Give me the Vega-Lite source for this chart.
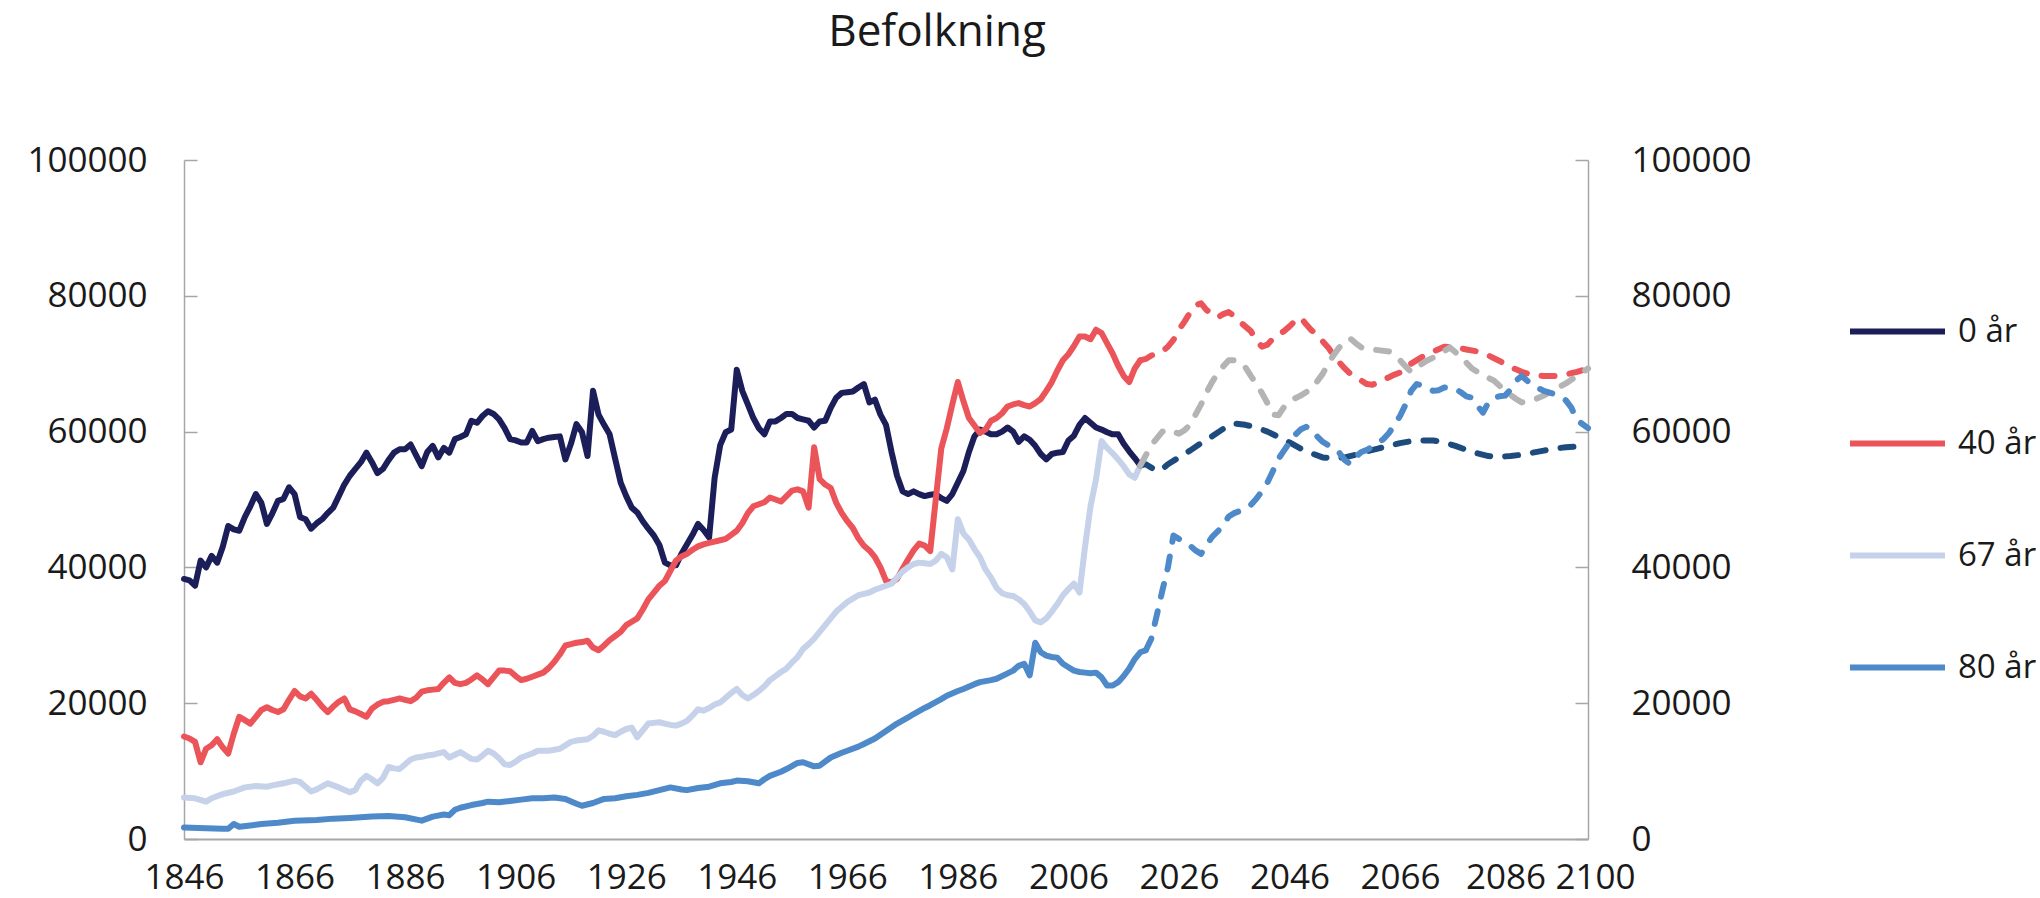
{
  "$schema": "https://vega.github.io/schema/vega-lite/v6.json",
  "width": 1404,
  "height": 679,
  "autosize": {"type": "none"},
  "padding": {"left": 184, "top": 160, "right": 452, "bottom": 59},
  "background": "white",
  "config": {"font": "Open Sans", "view": {"stroke": null}},
  "title": {"text": "Befolkning", "fontSize": 44, "fontWeight": "normal", "color": "#1a1a1a", "anchor": "middle", "frame": "group", "dx": 51, "offset": 53, "baseline": "alphabetic"},
  "datasets": {
    "hist": [
      {"serie":"0 år","year":1846,"value":38300},{"serie":"0 år","year":1847,"value":38100},{"serie":"0 år","year":1848,"value":37300},{"serie":"0 år","year":1849,"value":41000},{"serie":"0 år","year":1850,"value":40000},{"serie":"0 år","year":1851,"value":41700},{"serie":"0 år","year":1852,"value":40700},{"serie":"0 år","year":1853,"value":43000},{"serie":"0 år","year":1854,"value":46100},{"serie":"0 år","year":1855,"value":45600},{"serie":"0 år","year":1856,"value":45400},{"serie":"0 år","year":1857,"value":47400},{"serie":"0 år","year":1858,"value":49000},{"serie":"0 år","year":1859,"value":50800},{"serie":"0 år","year":1860,"value":49500},{"serie":"0 år","year":1861,"value":46400},{"serie":"0 år","year":1862,"value":48000},{"serie":"0 år","year":1863,"value":49800},{"serie":"0 år","year":1864,"value":50100},{"serie":"0 år","year":1865,"value":51800},{"serie":"0 år","year":1866,"value":50800},{"serie":"0 år","year":1867,"value":47400},{"serie":"0 år","year":1868,"value":47100},{"serie":"0 år","year":1869,"value":45700},{"serie":"0 år","year":1870,"value":46500},{"serie":"0 år","year":1871,"value":47100},{"serie":"0 år","year":1872,"value":48000},{"serie":"0 år","year":1873,"value":48800},{"serie":"0 år","year":1874,"value":50500},{"serie":"0 år","year":1875,"value":52200},{"serie":"0 år","year":1876,"value":53500},{"serie":"0 år","year":1877,"value":54500},{"serie":"0 år","year":1878,"value":55500},{"serie":"0 år","year":1879,"value":56900},{"serie":"0 år","year":1880,"value":55500},{"serie":"0 år","year":1881,"value":53900},{"serie":"0 år","year":1882,"value":54500},{"serie":"0 år","year":1883,"value":55800},{"serie":"0 år","year":1884,"value":56900},{"serie":"0 år","year":1885,"value":57400},{"serie":"0 år","year":1886,"value":57400},{"serie":"0 år","year":1887,"value":58100},{"serie":"0 år","year":1888,"value":56500},{"serie":"0 år","year":1889,"value":54900},{"serie":"0 år","year":1890,"value":57000},{"serie":"0 år","year":1891,"value":57900},{"serie":"0 år","year":1892,"value":56200},{"serie":"0 år","year":1893,"value":57600},{"serie":"0 år","year":1894,"value":56900},{"serie":"0 år","year":1895,"value":58900},{"serie":"0 år","year":1896,"value":59200},{"serie":"0 år","year":1897,"value":59600},{"serie":"0 år","year":1898,"value":61600},{"serie":"0 år","year":1899,"value":61300},{"serie":"0 år","year":1900,"value":62300},{"serie":"0 år","year":1901,"value":63000},{"serie":"0 år","year":1902,"value":62600},{"serie":"0 år","year":1903,"value":61800},{"serie":"0 år","year":1904,"value":60500},{"serie":"0 år","year":1905,"value":58900},{"serie":"0 år","year":1906,"value":58700},{"serie":"0 år","year":1907,"value":58400},{"serie":"0 år","year":1908,"value":58400},{"serie":"0 år","year":1909,"value":60100},{"serie":"0 år","year":1910,"value":58600},{"serie":"0 år","year":1911,"value":58900},{"serie":"0 år","year":1912,"value":59100},{"serie":"0 år","year":1913,"value":59200},{"serie":"0 år","year":1914,"value":59300},{"serie":"0 år","year":1915,"value":55900},{"serie":"0 år","year":1916,"value":58200},{"serie":"0 år","year":1917,"value":61100},{"serie":"0 år","year":1918,"value":59900},{"serie":"0 år","year":1919,"value":56400},{"serie":"0 år","year":1920,"value":66000},{"serie":"0 år","year":1921,"value":62500},{"serie":"0 år","year":1922,"value":61000},{"serie":"0 år","year":1923,"value":59600},{"serie":"0 år","year":1924,"value":56000},{"serie":"0 år","year":1925,"value":52500},{"serie":"0 år","year":1926,"value":50500},{"serie":"0 år","year":1927,"value":48800},{"serie":"0 år","year":1928,"value":48100},{"serie":"0 år","year":1929,"value":46800},{"serie":"0 år","year":1930,"value":45700},{"serie":"0 år","year":1931,"value":44700},{"serie":"0 år","year":1932,"value":43300},{"serie":"0 år","year":1933,"value":40700},{"serie":"0 år","year":1934,"value":40300},{"serie":"0 år","year":1935,"value":40300},{"serie":"0 år","year":1936,"value":42000},{"serie":"0 år","year":1937,"value":43400},{"serie":"0 år","year":1938,"value":44800},{"serie":"0 år","year":1939,"value":46400},{"serie":"0 år","year":1940,"value":45500},{"serie":"0 år","year":1941,"value":44400},{"serie":"0 år","year":1942,"value":53200},{"serie":"0 år","year":1943,"value":58000},{"serie":"0 år","year":1944,"value":59900},{"serie":"0 år","year":1945,"value":60300},{"serie":"0 år","year":1946,"value":69100},{"serie":"0 år","year":1947,"value":66000},{"serie":"0 år","year":1948,"value":64000},{"serie":"0 år","year":1949,"value":62000},{"serie":"0 år","year":1950,"value":60500},{"serie":"0 år","year":1951,"value":59600},{"serie":"0 år","year":1952,"value":61500},{"serie":"0 år","year":1953,"value":61500},{"serie":"0 år","year":1954,"value":62000},{"serie":"0 år","year":1955,"value":62600},{"serie":"0 år","year":1956,"value":62600},{"serie":"0 år","year":1957,"value":62000},{"serie":"0 år","year":1958,"value":61800},{"serie":"0 år","year":1959,"value":61600},{"serie":"0 år","year":1960,"value":60600},{"serie":"0 år","year":1961,"value":61500},{"serie":"0 år","year":1962,"value":61600},{"serie":"0 år","year":1963,"value":63500},{"serie":"0 år","year":1964,"value":65000},{"serie":"0 år","year":1965,"value":65700},{"serie":"0 år","year":1966,"value":65800},{"serie":"0 år","year":1967,"value":65900},{"serie":"0 år","year":1968,"value":66500},{"serie":"0 år","year":1969,"value":67000},{"serie":"0 år","year":1970,"value":64300},{"serie":"0 år","year":1971,"value":64700},{"serie":"0 år","year":1972,"value":62500},{"serie":"0 år","year":1973,"value":61000},{"serie":"0 år","year":1974,"value":57000},{"serie":"0 år","year":1975,"value":53500},{"serie":"0 år","year":1976,"value":51200},{"serie":"0 år","year":1977,"value":50800},{"serie":"0 år","year":1978,"value":51200},{"serie":"0 år","year":1979,"value":50800},{"serie":"0 år","year":1980,"value":50500},{"serie":"0 år","year":1981,"value":50700},{"serie":"0 år","year":1982,"value":50800},{"serie":"0 år","year":1983,"value":50200},{"serie":"0 år","year":1984,"value":49800},{"serie":"0 år","year":1985,"value":50800},{"serie":"0 år","year":1986,"value":52500},{"serie":"0 år","year":1987,"value":54200},{"serie":"0 år","year":1988,"value":57000},{"serie":"0 år","year":1989,"value":59300},{"serie":"0 år","year":1990,"value":60300},{"serie":"0 år","year":1991,"value":60000},{"serie":"0 år","year":1992,"value":59600},{"serie":"0 år","year":1993,"value":59600},{"serie":"0 år","year":1994,"value":60000},{"serie":"0 år","year":1995,"value":60600},{"serie":"0 år","year":1996,"value":60000},{"serie":"0 år","year":1997,"value":58500},{"serie":"0 år","year":1998,"value":59300},{"serie":"0 år","year":1999,"value":58800},{"serie":"0 år","year":2000,"value":57900},{"serie":"0 år","year":2001,"value":56700},{"serie":"0 år","year":2002,"value":55900},{"serie":"0 år","year":2003,"value":56700},{"serie":"0 år","year":2004,"value":56900},{"serie":"0 år","year":2005,"value":57000},{"serie":"0 år","year":2006,"value":58700},{"serie":"0 år","year":2007,"value":59400},{"serie":"0 år","year":2008,"value":61000},{"serie":"0 år","year":2009,"value":62000},{"serie":"0 år","year":2010,"value":61300},{"serie":"0 år","year":2011,"value":60600},{"serie":"0 år","year":2012,"value":60300},{"serie":"0 år","year":2013,"value":59900},{"serie":"0 år","year":2014,"value":59600},{"serie":"0 år","year":2015,"value":59600},{"serie":"0 år","year":2016,"value":58200},{"serie":"0 år","year":2017,"value":57100},{"serie":"0 år","year":2018,"value":56100},{"serie":"0 år","year":2019,"value":55000},

      {"serie":"40 år","year":1846,"value":15100},{"serie":"40 år","year":1847,"value":14800},{"serie":"40 år","year":1848,"value":14300},{"serie":"40 år","year":1849,"value":11300},{"serie":"40 år","year":1850,"value":13300},{"serie":"40 år","year":1851,"value":13800},{"serie":"40 år","year":1852,"value":14700},{"serie":"40 år","year":1853,"value":13500},{"serie":"40 år","year":1854,"value":12600},{"serie":"40 år","year":1855,"value":15500},{"serie":"40 år","year":1856,"value":18000},{"serie":"40 år","year":1857,"value":17500},{"serie":"40 år","year":1858,"value":17000},{"serie":"40 år","year":1859,"value":18000},{"serie":"40 år","year":1860,"value":19000},{"serie":"40 år","year":1861,"value":19400},{"serie":"40 år","year":1862,"value":19000},{"serie":"40 år","year":1863,"value":18700},{"serie":"40 år","year":1864,"value":19100},{"serie":"40 år","year":1865,"value":20500},{"serie":"40 år","year":1866,"value":21800},{"serie":"40 år","year":1867,"value":21000},{"serie":"40 år","year":1868,"value":20700},{"serie":"40 år","year":1869,"value":21400},{"serie":"40 år","year":1870,"value":20500},{"serie":"40 år","year":1871,"value":19500},{"serie":"40 år","year":1872,"value":18700},{"serie":"40 år","year":1873,"value":19500},{"serie":"40 år","year":1874,"value":20200},{"serie":"40 år","year":1875,"value":20700},{"serie":"40 år","year":1876,"value":19100},{"serie":"40 år","year":1877,"value":18800},{"serie":"40 år","year":1878,"value":18400},{"serie":"40 år","year":1879,"value":18000},{"serie":"40 år","year":1880,"value":19200},{"serie":"40 år","year":1881,"value":19800},{"serie":"40 år","year":1882,"value":20200},{"serie":"40 år","year":1883,"value":20300},{"serie":"40 år","year":1884,"value":20500},{"serie":"40 år","year":1885,"value":20700},{"serie":"40 år","year":1886,"value":20500},{"serie":"40 år","year":1887,"value":20300},{"serie":"40 år","year":1888,"value":20800},{"serie":"40 år","year":1889,"value":21700},{"serie":"40 år","year":1890,"value":21900},{"serie":"40 år","year":1891,"value":22000},{"serie":"40 år","year":1892,"value":22100},{"serie":"40 år","year":1893,"value":23000},{"serie":"40 år","year":1894,"value":23800},{"serie":"40 år","year":1895,"value":23000},{"serie":"40 år","year":1896,"value":22800},{"serie":"40 år","year":1897,"value":23000},{"serie":"40 år","year":1898,"value":23500},{"serie":"40 år","year":1899,"value":24100},{"serie":"40 år","year":1900,"value":23500},{"serie":"40 år","year":1901,"value":22800},{"serie":"40 år","year":1902,"value":23800},{"serie":"40 år","year":1903,"value":24800},{"serie":"40 år","year":1904,"value":24800},{"serie":"40 år","year":1905,"value":24700},{"serie":"40 år","year":1906,"value":24000},{"serie":"40 år","year":1907,"value":23400},{"serie":"40 år","year":1908,"value":23600},{"serie":"40 år","year":1909,"value":23900},{"serie":"40 år","year":1910,"value":24200},{"serie":"40 år","year":1911,"value":24500},{"serie":"40 år","year":1912,"value":25200},{"serie":"40 år","year":1913,"value":26100},{"serie":"40 år","year":1914,"value":27200},{"serie":"40 år","year":1915,"value":28500},{"serie":"40 år","year":1916,"value":28700},{"serie":"40 år","year":1917,"value":28900},{"serie":"40 år","year":1918,"value":29000},{"serie":"40 år","year":1919,"value":29200},{"serie":"40 år","year":1920,"value":28200},{"serie":"40 år","year":1921,"value":27800},{"serie":"40 år","year":1922,"value":28500},{"serie":"40 år","year":1923,"value":29300},{"serie":"40 år","year":1924,"value":29900},{"serie":"40 år","year":1925,"value":30500},{"serie":"40 år","year":1926,"value":31500},{"serie":"40 år","year":1927,"value":32000},{"serie":"40 år","year":1928,"value":32500},{"serie":"40 år","year":1929,"value":33800},{"serie":"40 år","year":1930,"value":35300},{"serie":"40 år","year":1931,"value":36300},{"serie":"40 år","year":1932,"value":37300},{"serie":"40 år","year":1933,"value":38000},{"serie":"40 år","year":1934,"value":39500},{"serie":"40 år","year":1935,"value":41000},{"serie":"40 år","year":1936,"value":41600},{"serie":"40 år","year":1937,"value":42000},{"serie":"40 år","year":1938,"value":42600},{"serie":"40 år","year":1939,"value":43100},{"serie":"40 år","year":1940,"value":43400},{"serie":"40 år","year":1941,"value":43600},{"serie":"40 år","year":1942,"value":43800},{"serie":"40 år","year":1943,"value":44000},{"serie":"40 år","year":1944,"value":44200},{"serie":"40 år","year":1945,"value":44800},{"serie":"40 år","year":1946,"value":45400},{"serie":"40 år","year":1947,"value":46500},{"serie":"40 år","year":1948,"value":48000},{"serie":"40 år","year":1949,"value":49000},{"serie":"40 år","year":1950,"value":49300},{"serie":"40 år","year":1951,"value":49600},{"serie":"40 år","year":1952,"value":50300},{"serie":"40 år","year":1953,"value":50000},{"serie":"40 år","year":1954,"value":49700},{"serie":"40 år","year":1955,"value":50500},{"serie":"40 år","year":1956,"value":51300},{"serie":"40 år","year":1957,"value":51500},{"serie":"40 år","year":1958,"value":51200},{"serie":"40 år","year":1959,"value":48800},{"serie":"40 år","year":1960,"value":57700},{"serie":"40 år","year":1961,"value":53000},{"serie":"40 år","year":1962,"value":52200},{"serie":"40 år","year":1963,"value":51700},{"serie":"40 år","year":1964,"value":49500},{"serie":"40 år","year":1965,"value":48000},{"serie":"40 år","year":1966,"value":46800},{"serie":"40 år","year":1967,"value":45800},{"serie":"40 år","year":1968,"value":44300},{"serie":"40 år","year":1969,"value":43200},{"serie":"40 år","year":1970,"value":42500},{"serie":"40 år","year":1971,"value":41500},{"serie":"40 år","year":1972,"value":40000},{"serie":"40 år","year":1973,"value":38000},{"serie":"40 år","year":1974,"value":37800},{"serie":"40 år","year":1975,"value":38300},{"serie":"40 år","year":1976,"value":39800},{"serie":"40 år","year":1977,"value":41200},{"serie":"40 år","year":1978,"value":42500},{"serie":"40 år","year":1979,"value":43500},{"serie":"40 år","year":1980,"value":43200},{"serie":"40 år","year":1981,"value":42400},{"serie":"40 år","year":1982,"value":50000},{"serie":"40 år","year":1983,"value":57500},{"serie":"40 år","year":1984,"value":60500},{"serie":"40 år","year":1985,"value":64000},{"serie":"40 år","year":1986,"value":67300},{"serie":"40 år","year":1987,"value":64500},{"serie":"40 år","year":1988,"value":62000},{"serie":"40 år","year":1989,"value":60900},{"serie":"40 år","year":1990,"value":59800},{"serie":"40 år","year":1991,"value":60300},{"serie":"40 år","year":1992,"value":61600},{"serie":"40 år","year":1993,"value":62000},{"serie":"40 år","year":1994,"value":62700},{"serie":"40 år","year":1995,"value":63700},{"serie":"40 år","year":1996,"value":64000},{"serie":"40 år","year":1997,"value":64200},{"serie":"40 år","year":1998,"value":63900},{"serie":"40 år","year":1999,"value":63700},{"serie":"40 år","year":2000,"value":64200},{"serie":"40 år","year":2001,"value":64800},{"serie":"40 år","year":2002,"value":66000},{"serie":"40 år","year":2003,"value":67300},{"serie":"40 år","year":2004,"value":69000},{"serie":"40 år","year":2005,"value":70500},{"serie":"40 år","year":2006,"value":71400},{"serie":"40 år","year":2007,"value":72600},{"serie":"40 år","year":2008,"value":74000},{"serie":"40 år","year":2009,"value":74000},{"serie":"40 år","year":2010,"value":73600},{"serie":"40 år","year":2011,"value":75000},{"serie":"40 år","year":2012,"value":74500},{"serie":"40 år","year":2013,"value":73000},{"serie":"40 år","year":2014,"value":71500},{"serie":"40 år","year":2015,"value":69700},{"serie":"40 år","year":2016,"value":68200},{"serie":"40 år","year":2017,"value":67300},{"serie":"40 år","year":2018,"value":69300},{"serie":"40 år","year":2019,"value":70500},

      {"serie":"67 år","year":1846,"value":6100},{"serie":"67 år","year":1848,"value":6000},{"serie":"67 år","year":1850,"value":5500},{"serie":"67 år","year":1851,"value":6000},{"serie":"67 år","year":1853,"value":6600},{"serie":"67 år","year":1855,"value":7000},{"serie":"67 år","year":1857,"value":7600},{"serie":"67 år","year":1859,"value":7800},{"serie":"67 år","year":1861,"value":7700},{"serie":"67 år","year":1862,"value":7900},{"serie":"67 år","year":1864,"value":8200},{"serie":"67 år","year":1866,"value":8600},{"serie":"67 år","year":1867,"value":8400},{"serie":"67 år","year":1869,"value":7000},{"serie":"67 år","year":1870,"value":7300},{"serie":"67 år","year":1872,"value":8200},{"serie":"67 år","year":1874,"value":7600},{"serie":"67 år","year":1876,"value":6900},{"serie":"67 år","year":1877,"value":7200},{"serie":"67 år","year":1878,"value":8600},{"serie":"67 år","year":1879,"value":9300},{"serie":"67 år","year":1880,"value":8800},{"serie":"67 år","year":1881,"value":8200},{"serie":"67 år","year":1882,"value":9000},{"serie":"67 år","year":1883,"value":10600},{"serie":"67 år","year":1884,"value":10400},{"serie":"67 år","year":1885,"value":10300},{"serie":"67 år","year":1886,"value":11000},{"serie":"67 år","year":1887,"value":11700},{"serie":"67 år","year":1888,"value":12000},{"serie":"67 år","year":1889,"value":12100},{"serie":"67 år","year":1890,"value":12300},{"serie":"67 år","year":1891,"value":12400},{"serie":"67 år","year":1892,"value":12600},{"serie":"67 år","year":1893,"value":12800},{"serie":"67 år","year":1894,"value":12000},{"serie":"67 år","year":1895,"value":12400},{"serie":"67 år","year":1896,"value":12800},{"serie":"67 år","year":1897,"value":12300},{"serie":"67 år","year":1898,"value":11800},{"serie":"67 år","year":1899,"value":11700},{"serie":"67 år","year":1900,"value":12300},{"serie":"67 år","year":1901,"value":13000},{"serie":"67 år","year":1902,"value":12600},{"serie":"67 år","year":1903,"value":11900},{"serie":"67 år","year":1904,"value":11000},{"serie":"67 år","year":1905,"value":10900},{"serie":"67 år","year":1906,"value":11400},{"serie":"67 år","year":1907,"value":12000},{"serie":"67 år","year":1908,"value":12300},{"serie":"67 år","year":1909,"value":12600},{"serie":"67 år","year":1910,"value":13000},{"serie":"67 år","year":1912,"value":13000},{"serie":"67 år","year":1914,"value":13300},{"serie":"67 år","year":1916,"value":14300},{"serie":"67 år","year":1917,"value":14500},{"serie":"67 år","year":1919,"value":14700},{"serie":"67 år","year":1920,"value":15200},{"serie":"67 år","year":1921,"value":16000},{"serie":"67 år","year":1922,"value":15800},{"serie":"67 år","year":1923,"value":15500},{"serie":"67 år","year":1924,"value":15300},{"serie":"67 år","year":1925,"value":15800},{"serie":"67 år","year":1926,"value":16200},{"serie":"67 år","year":1927,"value":16400},{"serie":"67 år","year":1928,"value":15000},{"serie":"67 år","year":1929,"value":16000},{"serie":"67 år","year":1930,"value":17000},{"serie":"67 år","year":1931,"value":17100},{"serie":"67 år","year":1932,"value":17200},{"serie":"67 år","year":1933,"value":17000},{"serie":"67 år","year":1934,"value":16800},{"serie":"67 år","year":1935,"value":16700},{"serie":"67 år","year":1936,"value":17000},{"serie":"67 år","year":1937,"value":17400},{"serie":"67 år","year":1938,"value":18200},{"serie":"67 år","year":1939,"value":19100},{"serie":"67 år","year":1940,"value":18900},{"serie":"67 år","year":1941,"value":19300},{"serie":"67 år","year":1942,"value":19800},{"serie":"67 år","year":1943,"value":20100},{"serie":"67 år","year":1944,"value":20800},{"serie":"67 år","year":1945,"value":21500},{"serie":"67 år","year":1946,"value":22100},{"serie":"67 år","year":1947,"value":21200},{"serie":"67 år","year":1948,"value":20700},{"serie":"67 år","year":1949,"value":21200},{"serie":"67 år","year":1950,"value":21800},{"serie":"67 år","year":1951,"value":22500},{"serie":"67 år","year":1952,"value":23400},{"serie":"67 år","year":1953,"value":24000},{"serie":"67 år","year":1954,"value":24600},{"serie":"67 år","year":1955,"value":25100},{"serie":"67 år","year":1956,"value":26000},{"serie":"67 år","year":1957,"value":26800},{"serie":"67 år","year":1958,"value":28000},{"serie":"67 år","year":1959,"value":28700},{"serie":"67 år","year":1960,"value":29500},{"serie":"67 år","year":1961,"value":30500},{"serie":"67 år","year":1962,"value":31500},{"serie":"67 år","year":1963,"value":32500},{"serie":"67 år","year":1964,"value":33500},{"serie":"67 år","year":1965,"value":34200},{"serie":"67 år","year":1966,"value":34900},{"serie":"67 år","year":1967,"value":35400},{"serie":"67 år","year":1968,"value":35900},{"serie":"67 år","year":1969,"value":36100},{"serie":"67 år","year":1970,"value":36300},{"serie":"67 år","year":1971,"value":36700},{"serie":"67 år","year":1972,"value":37000},{"serie":"67 år","year":1973,"value":37300},{"serie":"67 år","year":1974,"value":37600},{"serie":"67 år","year":1975,"value":38500},{"serie":"67 år","year":1976,"value":39400},{"serie":"67 år","year":1977,"value":40000},{"serie":"67 år","year":1978,"value":40500},{"serie":"67 år","year":1979,"value":40700},{"serie":"67 år","year":1980,"value":40600},{"serie":"67 år","year":1981,"value":40500},{"serie":"67 år","year":1982,"value":41000},{"serie":"67 år","year":1983,"value":42000},{"serie":"67 år","year":1984,"value":41500},{"serie":"67 år","year":1985,"value":39700},{"serie":"67 år","year":1986,"value":47100},{"serie":"67 år","year":1987,"value":45000},{"serie":"67 år","year":1988,"value":44100},{"serie":"67 år","year":1989,"value":42700},{"serie":"67 år","year":1990,"value":41500},{"serie":"67 år","year":1991,"value":39700},{"serie":"67 år","year":1992,"value":38500},{"serie":"67 år","year":1993,"value":37000},{"serie":"67 år","year":1994,"value":36200},{"serie":"67 år","year":1995,"value":35900},{"serie":"67 år","year":1996,"value":35800},{"serie":"67 år","year":1997,"value":35300},{"serie":"67 år","year":1998,"value":34600},{"serie":"67 år","year":1999,"value":33500},{"serie":"67 år","year":2000,"value":32200},{"serie":"67 år","year":2001,"value":31900},{"serie":"67 år","year":2002,"value":32500},{"serie":"67 år","year":2003,"value":33500},{"serie":"67 år","year":2004,"value":34600},{"serie":"67 år","year":2005,"value":35900},{"serie":"67 år","year":2006,"value":36800},{"serie":"67 år","year":2007,"value":37600},{"serie":"67 år","year":2008,"value":36300},{"serie":"67 år","year":2009,"value":43000},{"serie":"67 år","year":2010,"value":49000},{"serie":"67 år","year":2011,"value":53000},{"serie":"67 år","year":2012,"value":58600},{"serie":"67 år","year":2013,"value":57600},{"serie":"67 år","year":2014,"value":56800},{"serie":"67 år","year":2015,"value":55900},{"serie":"67 år","year":2016,"value":54900},{"serie":"67 år","year":2017,"value":53700},{"serie":"67 år","year":2018,"value":53200},{"serie":"67 år","year":2019,"value":55000},

      {"serie":"80 år","year":1846,"value":1700},{"serie":"80 år","year":1850,"value":1600},{"serie":"80 år","year":1853,"value":1500},{"serie":"80 år","year":1854,"value":1500},{"serie":"80 år","year":1855,"value":2200},{"serie":"80 år","year":1856,"value":1800},{"serie":"80 år","year":1858,"value":2000},{"serie":"80 år","year":1860,"value":2200},{"serie":"80 år","year":1863,"value":2400},{"serie":"80 år","year":1866,"value":2700},{"serie":"80 år","year":1870,"value":2800},{"serie":"80 år","year":1873,"value":3000},{"serie":"80 år","year":1876,"value":3100},{"serie":"80 år","year":1878,"value":3200},{"serie":"80 år","year":1880,"value":3300},{"serie":"80 år","year":1883,"value":3400},{"serie":"80 år","year":1886,"value":3200},{"serie":"80 år","year":1889,"value":2700},{"serie":"80 år","year":1891,"value":3300},{"serie":"80 år","year":1893,"value":3600},{"serie":"80 år","year":1894,"value":3500},{"serie":"80 år","year":1895,"value":4300},{"serie":"80 år","year":1896,"value":4600},{"serie":"80 år","year":1898,"value":5000},{"serie":"80 år","year":1900,"value":5300},{"serie":"80 år","year":1901,"value":5500},{"serie":"80 år","year":1903,"value":5400},{"serie":"80 år","year":1905,"value":5600},{"serie":"80 år","year":1907,"value":5800},{"serie":"80 år","year":1909,"value":6000},{"serie":"80 år","year":1911,"value":6000},{"serie":"80 år","year":1913,"value":6100},{"serie":"80 år","year":1915,"value":5900},{"serie":"80 år","year":1917,"value":5200},{"serie":"80 år","year":1918,"value":4900},{"serie":"80 år","year":1920,"value":5300},{"serie":"80 år","year":1922,"value":5900},{"serie":"80 år","year":1924,"value":6000},{"serie":"80 år","year":1926,"value":6300},{"serie":"80 år","year":1928,"value":6500},{"serie":"80 år","year":1930,"value":6800},{"serie":"80 år","year":1932,"value":7200},{"serie":"80 år","year":1934,"value":7600},{"serie":"80 år","year":1936,"value":7300},{"serie":"80 år","year":1937,"value":7200},{"serie":"80 år","year":1939,"value":7500},{"serie":"80 år","year":1941,"value":7700},{"serie":"80 år","year":1943,"value":8200},{"serie":"80 år","year":1945,"value":8400},{"serie":"80 år","year":1946,"value":8600},{"serie":"80 år","year":1948,"value":8500},{"serie":"80 år","year":1950,"value":8200},{"serie":"80 år","year":1951,"value":8800},{"serie":"80 år","year":1952,"value":9300},{"serie":"80 år","year":1954,"value":9900},{"serie":"80 år","year":1955,"value":10300},{"serie":"80 år","year":1957,"value":11200},{"serie":"80 år","year":1958,"value":11300},{"serie":"80 år","year":1960,"value":10700},{"serie":"80 år","year":1961,"value":10800},{"serie":"80 år","year":1963,"value":12000},{"serie":"80 år","year":1965,"value":12700},{"serie":"80 år","year":1966,"value":13000},{"serie":"80 år","year":1968,"value":13600},{"serie":"80 år","year":1969,"value":14000},{"serie":"80 år","year":1971,"value":14800},{"serie":"80 år","year":1973,"value":15900},{"serie":"80 år","year":1975,"value":17000},{"serie":"80 år","year":1977,"value":17900},{"serie":"80 år","year":1978,"value":18400},{"serie":"80 år","year":1980,"value":19300},{"serie":"80 år","year":1981,"value":19700},{"serie":"80 år","year":1983,"value":20600},{"serie":"80 år","year":1984,"value":21100},{"serie":"80 år","year":1986,"value":21800},{"serie":"80 år","year":1987,"value":22100},{"serie":"80 år","year":1989,"value":22800},{"serie":"80 år","year":1990,"value":23100},{"serie":"80 år","year":1992,"value":23400},{"serie":"80 år","year":1993,"value":23600},{"serie":"80 år","year":1995,"value":24400},{"serie":"80 år","year":1996,"value":24800},{"serie":"80 år","year":1997,"value":25500},{"serie":"80 år","year":1998,"value":25800},{"serie":"80 år","year":1999,"value":24100},{"serie":"80 år","year":2000,"value":28900},{"serie":"80 år","year":2001,"value":27500},{"serie":"80 år","year":2002,"value":27000},{"serie":"80 år","year":2003,"value":26800},{"serie":"80 år","year":2004,"value":26700},{"serie":"80 år","year":2005,"value":25800},{"serie":"80 år","year":2006,"value":25300},{"serie":"80 år","year":2007,"value":24800},{"serie":"80 år","year":2008,"value":24600},{"serie":"80 år","year":2009,"value":24500},{"serie":"80 år","year":2010,"value":24400},{"serie":"80 år","year":2011,"value":24500},{"serie":"80 år","year":2012,"value":23800},{"serie":"80 år","year":2013,"value":22600},{"serie":"80 år","year":2014,"value":22600},{"serie":"80 år","year":2015,"value":23100},{"serie":"80 år","year":2016,"value":24000},{"serie":"80 år","year":2017,"value":25100},{"serie":"80 år","year":2018,"value":26500},{"serie":"80 år","year":2019,"value":27500},{"serie":"80 år","year":2020,"value":27800}
    ],
    "proj": [
      {"serie":"0 år","year":2019,"value":55000},{"serie":"0 år","year":2020,"value":55200},{"serie":"0 år","year":2021,"value":54700},{"serie":"0 år","year":2022,"value":54200},{"serie":"0 år","year":2023,"value":54500},{"serie":"0 år","year":2024,"value":55200},{"serie":"0 år","year":2026,"value":56200},{"serie":"0 år","year":2028,"value":57200},{"serie":"0 år","year":2030,"value":58300},{"serie":"0 år","year":2032,"value":59300},{"serie":"0 år","year":2034,"value":60400},{"serie":"0 år","year":2036,"value":61200},{"serie":"0 år","year":2038,"value":61000},{"serie":"0 år","year":2040,"value":60600},{"serie":"0 år","year":2042,"value":60000},{"serie":"0 år","year":2044,"value":59200},{"serie":"0 år","year":2046,"value":58400},{"serie":"0 år","year":2048,"value":57500},{"serie":"0 år","year":2050,"value":56800},{"serie":"0 år","year":2052,"value":56200},{"serie":"0 år","year":2054,"value":56100},{"serie":"0 år","year":2056,"value":56200},{"serie":"0 år","year":2058,"value":56600},{"serie":"0 år","year":2060,"value":57100},{"serie":"0 år","year":2062,"value":57500},{"serie":"0 år","year":2064,"value":57900},{"serie":"0 år","year":2066,"value":58300},{"serie":"0 år","year":2068,"value":58600},{"serie":"0 år","year":2070,"value":58700},{"serie":"0 år","year":2072,"value":58700},{"serie":"0 år","year":2074,"value":58400},{"serie":"0 år","year":2076,"value":57900},{"serie":"0 år","year":2078,"value":57300},{"serie":"0 år","year":2080,"value":56800},{"serie":"0 år","year":2082,"value":56400},{"serie":"0 år","year":2084,"value":56300},{"serie":"0 år","year":2086,"value":56400},{"serie":"0 år","year":2088,"value":56600},{"serie":"0 år","year":2090,"value":56900},{"serie":"0 år","year":2092,"value":57200},{"serie":"0 år","year":2094,"value":57500},{"serie":"0 år","year":2096,"value":57700},{"serie":"0 år","year":2098,"value":57800},{"serie":"0 år","year":2100,"value":57900},

      {"serie":"40 år","year":2019,"value":70500},{"serie":"40 år","year":2020,"value":70700},{"serie":"40 år","year":2021,"value":71200},{"serie":"40 år","year":2023,"value":71800},{"serie":"40 år","year":2024,"value":72500},{"serie":"40 år","year":2025,"value":73500},{"serie":"40 år","year":2026,"value":75000},{"serie":"40 år","year":2027,"value":76200},{"serie":"40 år","year":2028,"value":77500},{"serie":"40 år","year":2029,"value":78600},{"serie":"40 år","year":2030,"value":78900},{"serie":"40 år","year":2031,"value":77900},{"serie":"40 år","year":2032,"value":77300},{"serie":"40 år","year":2033,"value":76800},{"serie":"40 år","year":2034,"value":77300},{"serie":"40 år","year":2035,"value":77600},{"serie":"40 år","year":2036,"value":77000},{"serie":"40 år","year":2037,"value":76200},{"serie":"40 år","year":2038,"value":75500},{"serie":"40 år","year":2039,"value":74800},{"serie":"40 år","year":2040,"value":73500},{"serie":"40 år","year":2041,"value":72500},{"serie":"40 år","year":2042,"value":72800},{"serie":"40 år","year":2043,"value":73700},{"serie":"40 år","year":2044,"value":74300},{"serie":"40 år","year":2045,"value":74800},{"serie":"40 år","year":2046,"value":75500},{"serie":"40 år","year":2047,"value":76300},{"serie":"40 år","year":2048,"value":76800},{"serie":"40 år","year":2049,"value":75800},{"serie":"40 år","year":2050,"value":74900},{"serie":"40 år","year":2051,"value":74300},{"serie":"40 år","year":2052,"value":73300},{"serie":"40 år","year":2053,"value":72400},{"serie":"40 år","year":2054,"value":71200},{"serie":"40 år","year":2055,"value":70200},{"serie":"40 år","year":2056,"value":69300},{"serie":"40 år","year":2057,"value":68500},{"serie":"40 år","year":2058,"value":68000},{"serie":"40 år","year":2059,"value":67500},{"serie":"40 år","year":2060,"value":67000},{"serie":"40 år","year":2061,"value":66900},{"serie":"40 år","year":2062,"value":67200},{"serie":"40 år","year":2063,"value":67700},{"serie":"40 år","year":2064,"value":68000},{"serie":"40 år","year":2065,"value":68400},{"serie":"40 år","year":2066,"value":68700},{"serie":"40 år","year":2067,"value":69200},{"serie":"40 år","year":2068,"value":70000},{"serie":"40 år","year":2070,"value":71000},{"serie":"40 år","year":2072,"value":71800},{"serie":"40 år","year":2074,"value":72500},{"serie":"40 år","year":2076,"value":72400},{"serie":"40 år","year":2078,"value":72100},{"serie":"40 år","year":2080,"value":71800},{"serie":"40 år","year":2082,"value":71200},{"serie":"40 år","year":2084,"value":70400},{"serie":"40 år","year":2086,"value":69500},{"serie":"40 år","year":2088,"value":68800},{"serie":"40 år","year":2090,"value":68300},{"serie":"40 år","year":2092,"value":68200},{"serie":"40 år","year":2094,"value":68200},{"serie":"40 år","year":2096,"value":68400},{"serie":"40 år","year":2098,"value":68800},{"serie":"40 år","year":2100,"value":69300},

      {"serie":"67 år","year":2019,"value":55000},{"serie":"67 år","year":2020,"value":56500},{"serie":"67 år","year":2021,"value":58000},{"serie":"67 år","year":2022,"value":59000},{"serie":"67 år","year":2023,"value":60000},{"serie":"67 år","year":2024,"value":60300},{"serie":"67 år","year":2025,"value":60000},{"serie":"67 år","year":2026,"value":59700},{"serie":"67 år","year":2027,"value":60200},{"serie":"67 år","year":2028,"value":61000},{"serie":"67 år","year":2029,"value":62500},{"serie":"67 år","year":2030,"value":64000},{"serie":"67 år","year":2031,"value":65800},{"serie":"67 år","year":2032,"value":67300},{"serie":"67 år","year":2033,"value":68600},{"serie":"67 år","year":2034,"value":69600},{"serie":"67 år","year":2035,"value":70500},{"serie":"67 år","year":2036,"value":70500},{"serie":"67 år","year":2037,"value":70300},{"serie":"67 år","year":2038,"value":69500},{"serie":"67 år","year":2039,"value":68200},{"serie":"67 år","year":2040,"value":67000},{"serie":"67 år","year":2041,"value":65700},{"serie":"67 år","year":2042,"value":64200},{"serie":"67 år","year":2043,"value":62500},{"serie":"67 år","year":2044,"value":62400},{"serie":"67 år","year":2045,"value":63600},{"serie":"67 år","year":2046,"value":64300},{"serie":"67 år","year":2047,"value":64900},{"serie":"67 år","year":2048,"value":65300},{"serie":"67 år","year":2049,"value":65800},{"serie":"67 år","year":2050,"value":66400},{"serie":"67 år","year":2051,"value":67400},{"serie":"67 år","year":2052,"value":68500},{"serie":"67 år","year":2053,"value":70000},{"serie":"67 år","year":2054,"value":71300},{"serie":"67 år","year":2055,"value":72400},{"serie":"67 år","year":2056,"value":73200},{"serie":"67 år","year":2057,"value":73700},{"serie":"67 år","year":2058,"value":73000},{"serie":"67 år","year":2059,"value":72400},{"serie":"67 år","year":2060,"value":72200},{"serie":"67 år","year":2062,"value":72000},{"serie":"67 år","year":2064,"value":71800},{"serie":"67 år","year":2065,"value":71300},{"serie":"67 år","year":2066,"value":70500},{"serie":"67 år","year":2067,"value":69600},{"serie":"67 år","year":2068,"value":68800},{"serie":"67 år","year":2069,"value":69500},{"serie":"67 år","year":2071,"value":70500},{"serie":"67 år","year":2073,"value":71300},{"serie":"67 år","year":2075,"value":72400},{"serie":"67 år","year":2077,"value":71000},{"serie":"67 år","year":2079,"value":69300},{"serie":"67 år","year":2081,"value":68300},{"serie":"67 år","year":2083,"value":67500},{"serie":"67 år","year":2085,"value":66000},{"serie":"67 år","year":2087,"value":64800},{"serie":"67 år","year":2088,"value":64300},{"serie":"67 år","year":2090,"value":64600},{"serie":"67 år","year":2092,"value":65300},{"serie":"67 år","year":2094,"value":66200},{"serie":"67 år","year":2096,"value":67100},{"serie":"67 år","year":2098,"value":68200},{"serie":"67 år","year":2100,"value":69300},

      {"serie":"80 år","year":2020,"value":27800},{"serie":"80 år","year":2021,"value":29500},{"serie":"80 år","year":2022,"value":33000},{"serie":"80 år","year":2023,"value":36600},{"serie":"80 år","year":2024,"value":40000},{"serie":"80 år","year":2025,"value":44700},{"serie":"80 år","year":2026,"value":44200},{"serie":"80 år","year":2027,"value":43700},{"serie":"80 år","year":2028,"value":43200},{"serie":"80 år","year":2029,"value":42500},{"serie":"80 år","year":2030,"value":42000},{"serie":"80 år","year":2031,"value":43300},{"serie":"80 år","year":2032,"value":44500},{"serie":"80 år","year":2033,"value":45300},{"serie":"80 år","year":2034,"value":46200},{"serie":"80 år","year":2035,"value":47500},{"serie":"80 år","year":2036,"value":48000},{"serie":"80 år","year":2037,"value":48300},{"serie":"80 år","year":2038,"value":48600},{"serie":"80 år","year":2039,"value":49200},{"serie":"80 år","year":2040,"value":50100},{"serie":"80 år","year":2041,"value":51200},{"serie":"80 år","year":2042,"value":52500},{"serie":"80 år","year":2043,"value":54200},{"serie":"80 år","year":2044,"value":56000},{"serie":"80 år","year":2045,"value":57200},{"serie":"80 år","year":2046,"value":58400},{"serie":"80 år","year":2047,"value":59500},{"serie":"80 år","year":2048,"value":60300},{"serie":"80 år","year":2049,"value":60700},{"serie":"80 år","year":2050,"value":60400},{"serie":"80 år","year":2051,"value":59300},{"serie":"80 år","year":2052,"value":58500},{"serie":"80 år","year":2053,"value":58000},{"serie":"80 år","year":2054,"value":57300},{"serie":"80 år","year":2055,"value":56900},{"serie":"80 år","year":2056,"value":55800},{"serie":"80 år","year":2057,"value":55200},{"serie":"80 år","year":2058,"value":56300},{"serie":"80 år","year":2059,"value":57000},{"serie":"80 år","year":2060,"value":57300},{"serie":"80 år","year":2061,"value":57800},{"serie":"80 år","year":2062,"value":58300},{"serie":"80 år","year":2063,"value":58900},{"serie":"80 år","year":2064,"value":59800},{"serie":"80 år","year":2065,"value":61000},{"serie":"80 år","year":2066,"value":62300},{"serie":"80 år","year":2067,"value":64000},{"serie":"80 år","year":2068,"value":66000},{"serie":"80 år","year":2069,"value":67000},{"serie":"80 år","year":2070,"value":66800},{"serie":"80 år","year":2071,"value":66300},{"serie":"80 år","year":2072,"value":66000},{"serie":"80 år","year":2073,"value":66100},{"serie":"80 år","year":2074,"value":66500},{"serie":"80 år","year":2075,"value":66400},{"serie":"80 år","year":2076,"value":66300},{"serie":"80 år","year":2077,"value":65800},{"serie":"80 år","year":2078,"value":65200},{"serie":"80 år","year":2079,"value":65000},{"serie":"80 år","year":2080,"value":63800},{"serie":"80 år","year":2081,"value":62800},{"serie":"80 år","year":2082,"value":64300},{"serie":"80 år","year":2083,"value":65000},{"serie":"80 år","year":2084,"value":65200},{"serie":"80 år","year":2085,"value":65300},{"serie":"80 år","year":2086,"value":66200},{"serie":"80 år","year":2087,"value":67500},{"serie":"80 år","year":2088,"value":68200},{"serie":"80 år","year":2089,"value":67500},{"serie":"80 år","year":2090,"value":66800},{"serie":"80 år","year":2092,"value":66000},{"serie":"80 år","year":2094,"value":65500},{"serie":"80 år","year":2096,"value":64600},{"serie":"80 år","year":2097,"value":63500},{"serie":"80 år","year":2098,"value":61700},{"serie":"80 år","year":2100,"value":60500}
    ]
  },
  "layer": [
    {
      "mark": {"type": "rule", "color": "#999999", "strokeWidth": 1.5},
      "encoding": {
        "x": {"datum": 2020, "type": "quantitative"},
        "y": {"datum": 0, "type": "quantitative", "axis": null},
        "y2": {"datum": 71000}
      }
    },
    {
      "data": {"name": "hist"},
      "mark": {"type": "line", "strokeWidth": 6, "strokeJoin": "round", "strokeCap": "round"},
      "encoding": {
        "x": {"field": "year", "type": "quantitative",
          "scale": {"domain": [1846, 2100], "nice": false, "zero": false},
          "axis": {"title": null, "values": [1846,1866,1886,1906,1926,1946,1966,1986,2006,2026,2046,2066,2086,2100], "format": "d", "grid": false, "ticks": false, "labelFontSize": 35, "labelColor": "#1a1a1a", "labelPadding": 21, "labelOverlap": false, "labelFlush": false, "labelBound": false,
            "labelOffset": {"condition": [{"test": "datum.value == 2100", "value": 7}, {"test": "datum.value == 2086", "value": -5}], "value": 0},
            "domainColor": "#a6a6a6", "domainWidth": 2}},
        "y": {"field": "value", "type": "quantitative",
          "scale": {"domain": [0, 100000], "nice": false},
          "axis": {"orient": "left", "title": null, "values": [0,20000,40000,60000,80000,100000], "format": "d", "grid": false, "labelFontSize": 35, "labelColor": "#1a1a1a", "labelPadding": 50, "tickSize": -13, "tickColor": "#a6a6a6", "tickWidth": 1.5, "domainColor": "#a6a6a6", "domainWidth": 1.5}},
        "color": {"field": "serie", "type": "nominal",
          "scale": {"domain": ["0 år", "40 år", "67 år", "80 år"], "range": ["#1c1e5a", "#eb555a", "#c5d2ea", "#4e8aca"]},
          "legend": {"orient": "none", "legendX": 1663, "legendY": 121, "title": null, "padding": 0, "labelFontSize": 33, "labelColor": "#1a1a1a", "symbolType": "stroke", "symbolStrokeWidth": 6, "symbolSize": 9025, "labelOffset": 10, "rowPadding": 44, "labelLimit": 300}}
      }
    },
    {
      "data": {"name": "proj"},
      "mark": {"type": "line", "strokeWidth": 6, "strokeJoin": "round", "strokeCap": "round", "strokeDash": [13, 15]},
      "encoding": {
        "x": {"field": "year", "type": "quantitative"},
        "y": {"field": "value", "type": "quantitative",
          "axis": {"orient": "right", "title": null, "values": [0,20000,40000,60000,80000,100000], "format": "d", "grid": false, "labelFontSize": 35, "labelColor": "#1a1a1a", "labelPadding": 56, "tickSize": -13, "tickColor": "#a6a6a6", "tickWidth": 1.5, "domainColor": "#a6a6a6", "domainWidth": 1.5}},
        "color": {"field": "serie", "type": "nominal",
          "scale": {"domain": ["0 år", "40 år", "67 år", "80 år"], "range": ["#1e4b7d", "#eb555a", "#b4b4b4", "#4e8aca"]},
          "legend": null}
      }
    }
  ],
  "resolve": {"scale": {"color": "independent"}, "axis": {"y": "independent"}}
}
